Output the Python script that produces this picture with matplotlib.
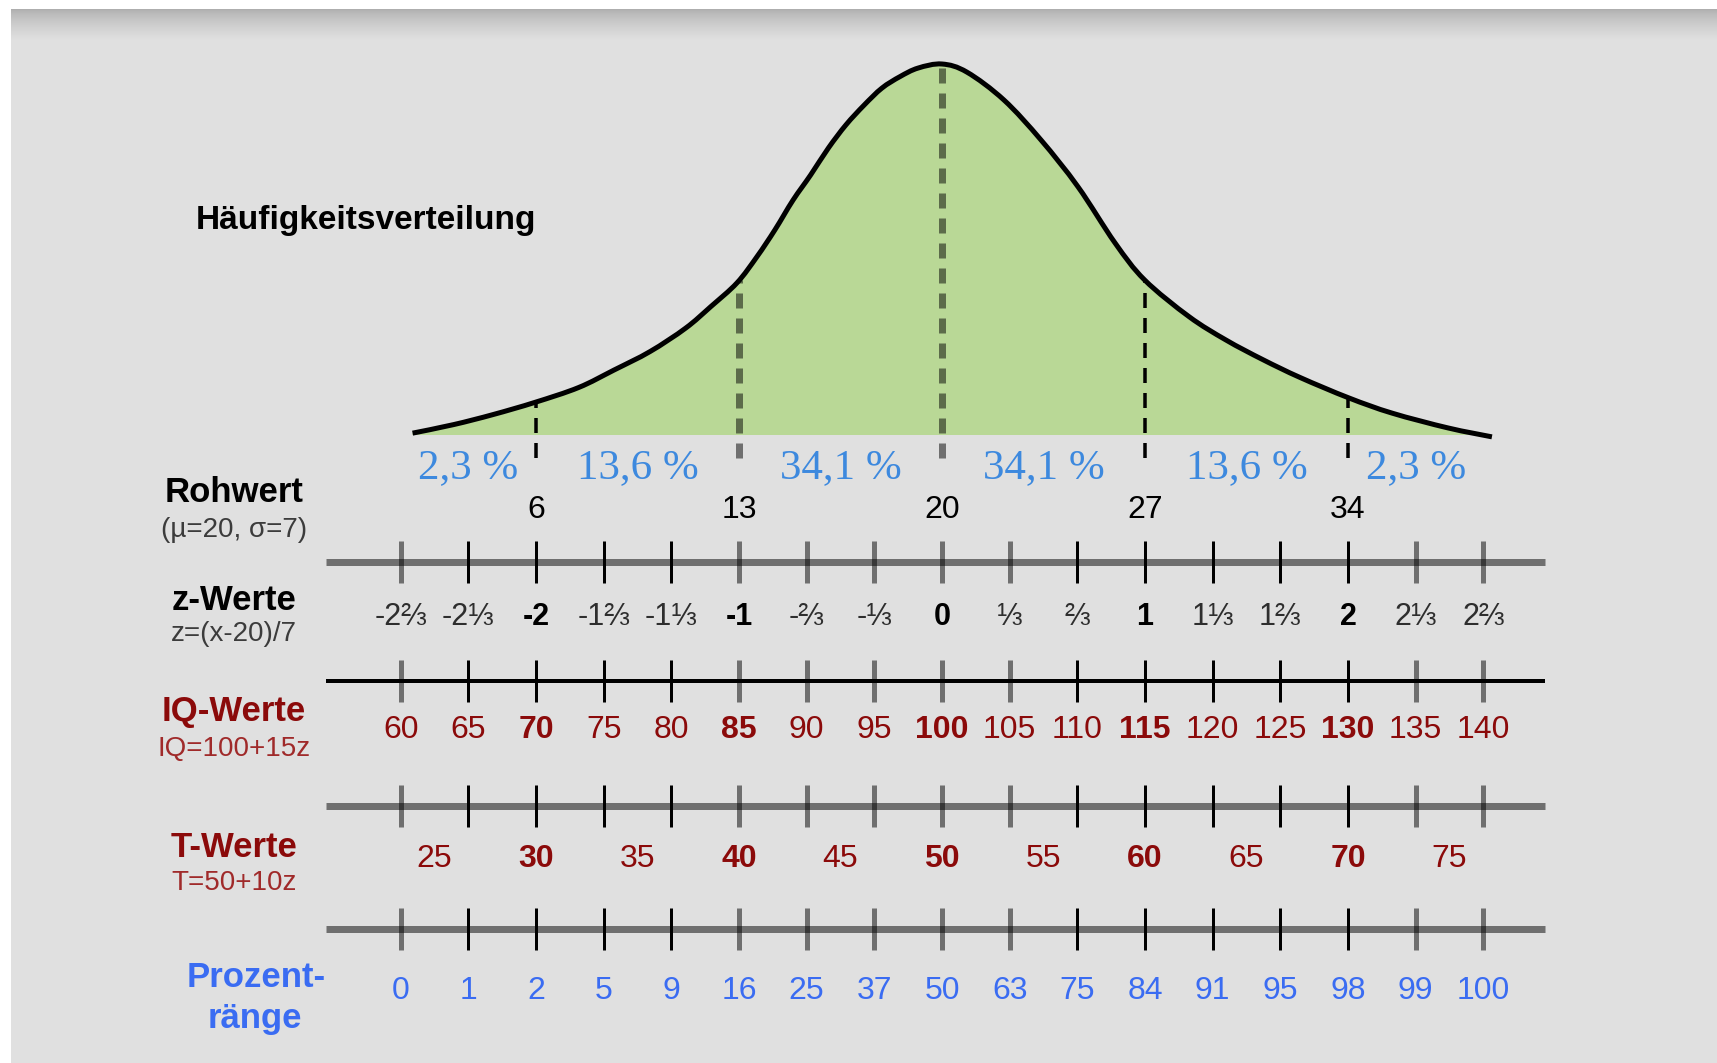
#!/usr/bin/env python3
"""
Normalverteilung mit Skalen (Rohwert, z, IQ, T, Prozentrang) nachgezeichnet.
"""

import numpy as np
import matplotlib.pyplot as plt
from matplotlib.patches import Rectangle, PathPatch
from matplotlib.path import Path

# --- data ------------------------------------------------------------------
# curve, x in z units, height relative to the peak
curve_z = [-2.608, -2.406, -2.212, -2.005, -1.790, -1.616, -1.438, -1.263,
           -1.139, -1.010, -0.911, -0.823, -0.734, -0.647, -0.559, -0.473,
           -0.384, -0.296, -0.207, -0.118, 0.0, 0.123, 0.305, 0.488, 0.670,
           0.852, 0.998, 1.217, 1.399, 1.581, 1.764, 2.004, 2.217, 2.493, 2.709]
curve_h = [0.005, 0.028, 0.055, 0.088, 0.128, 0.175, 0.225, 0.288,
           0.346, 0.410, 0.481, 0.553, 0.633, 0.701, 0.774, 0.836,
           0.889, 0.935, 0.966, 0.989, 1.0, 0.978, 0.903, 0.795, 0.669,
           0.518, 0.418, 0.319, 0.256, 0.203, 0.155, 0.100, 0.059, 0.019, -0.005]

sd_marks = [-2, -1, 0, 1, 2]
area_bounds = [-8/3, -2, -1, 0, 1, 2, 8/3]
area_labels = ['2,3 %', '13,6 %', '34,1 %', '34,1 %', '13,6 %', '2,3 %']

raw_mu, raw_sigma = 20, 7
raw_vals = [6, 13, 20, 27, 34]

z_vals = [-8/3, -7/3, -2, -5/3, -4/3, -1, -2/3, -1/3, 0,
          1/3, 2/3, 1, 4/3, 5/3, 2, 7/3, 8/3]
z_labels = ['-2⅔', '-2⅓', '-2', '-1⅔', '-1⅓', '-1', '-⅔', '-⅓', '0',
            '⅓', '⅔', '1', '1⅓', '1⅔', '2', '2⅓', '2⅔']

iq_vals = [60, 65, 70, 75, 80, 85, 90, 95, 100, 105, 110, 115, 120, 125, 130, 135, 140]
t_vals = [25, 30, 35, 40, 45, 50, 55, 60, 65, 70, 75]
pr_vals = [0, 1, 2, 5, 9, 16, 25, 37, 50, 63, 75, 84, 91, 95, 98, 99, 100]

# --- layout (pixels of the 1717x1063 picture) ------------------------------
W, H = 1717, 1063
Z0_PX, Z_UNIT_PX = 942, 203
BASE_PX, PEAK_PX = 435, 64
LINE_ROWS = [562, 681, 806, 929]
LINE_IS_BLACK = [False, True, False, False]
TICK_IS_BLACK = [False, True, True, True, True, False, False, False, False,
                 False, True, True, True, True, True, False, False]

GREEN = '#b9d896'
BG = '#e0e0e0'
DARKRED = '#8b0a0a'
PCT_BLUE = '#3d89de'
PR_BLUE = '#3a6cf2'
SANS = ['Liberation Sans', 'DejaVu Sans']
SERIF = ['Liberation Serif', 'DejaVu Serif']

plt.rcParams['lines.scale_dashes'] = False


def col(px):
    """pixel column -> z"""
    return (px - Z0_PX) / Z_UNIT_PX


def row(py):
    """pixel row -> curve height units"""
    return (BASE_PX - py) / (BASE_PX - PEAK_PX)


def pt(px):
    return px * 72 / 100


def smooth_path(xs, ys, close_to=None):
    """Bezier path through the given points (Catmull-Rom control points)."""
    p = np.column_stack([xs, ys])
    verts, codes = [p[0]], [Path.MOVETO]
    for i in range(len(p) - 1):
        p0 = p[i - 1] if i > 0 else p[i]
        p3 = p[i + 2] if i + 2 < len(p) else p[i + 1]
        verts += [p[i] + (p[i + 1] - p0) / 6, p[i + 1] - (p3 - p[i]) / 6, p[i + 1]]
        codes += [Path.CURVE4] * 3
    if close_to is not None:
        verts += [(xs[-1], close_to), (xs[0], close_to), p[0]]
        codes += [Path.LINETO, Path.LINETO, Path.CLOSEPOLY]
    return Path(verts, codes)


def draw_background(fig):
    bg = fig.add_axes([0, 0, 1, 1])
    bg.set_axis_off()
    bg.add_patch(Rectangle((11, 9), W - 11, H - 9, color=BG, lw=0, zorder=1))
    shade = np.linspace(0, 1, 32) ** 0.7
    grad = (0.68 + (0.878 - 0.68) * shade)[:, None]
    bg.imshow(grad, extent=(11, W, 40, 9), cmap='gray', vmin=0, vmax=1,
              aspect='auto', interpolation='bilinear', zorder=2)
    bg.set_xlim(0, W)
    bg.set_ylim(H, 0)


def draw_curve(ax):
    fill = PathPatch(smooth_path(curve_z, curve_h, close_to=0), facecolor=GREEN,
                     lw=0, zorder=2)
    ax.add_patch(fill)
    clip = Rectangle((col(0), 0), 20, 20, transform=ax.transData)
    fill.set_clip_path(clip)
    ax.add_patch(PathPatch(smooth_path(curve_z, curve_h), facecolor='none',
                           edgecolor='black', lw=pt(5), zorder=4))

    for z in sd_marks:
        top = np.interp(z, curve_z, curve_h)
        grey = z in (-1, 0)
        ax.plot([z, z], [row(458), top], color='black',
                alpha=0.5 if grey else 1.0, lw=pt(7 if grey else 3.5),
                dashes=(pt(15), pt(10)), solid_capstyle='butt', zorder=3)

    for i, lab in enumerate(area_labels):
        mid = (area_bounds[i] + area_bounds[i + 1]) / 2
        ax.text(mid, row(478), lab, ha='center', va='baseline', fontsize=31,
                color=PCT_BLUE, family=SERIF)

    ax.text(col(366), row(229), 'Häufigkeitsverteilung', ha='center',
            va='baseline', fontsize=24, fontweight='bold', family=SANS)


def draw_scales(ax):
    left, right = col(326), col(1545)
    for py, black in zip(LINE_ROWS, LINE_IS_BLACK):
        ax.plot([left, right], [row(py), row(py)], color='black',
                alpha=1.0 if black else 0.5, lw=pt(4 if black else 7),
                solid_capstyle='butt')
        for z, tb in zip(z_vals, TICK_IS_BLACK):
            ax.plot([z, z], [row(py - 21), row(py + 21)], color='black',
                    alpha=1.0 if tb else 0.5, lw=pt(3 if tb else 5),
                    solid_capstyle='butt')

    # Rohwert
    for v in raw_vals:
        z = (v - raw_mu) / raw_sigma
        ax.text(z, row(518), str(v), ha='center', va='baseline', fontsize=23,
                family=SANS)

    # z-Werte
    for z, lab in zip(z_vals, z_labels):
        whole = abs(z - round(z)) < 1e-9
        ax.text(z, row(625), lab, ha='center', va='baseline', fontsize=22,
                family=SANS, fontweight='bold' if whole else 'normal',
                color='black' if whole else '#2e2e2e')

    # IQ
    for v in iq_vals:
        z = (v - 100) / 15
        ax.text(z, row(738), str(v), ha='center', va='baseline', fontsize=23,
                family=SANS, color=DARKRED,
                fontweight='bold' if v % 15 == 10 else 'normal')

    # T
    for v in t_vals:
        z = (v - 50) / 10
        ax.text(z, row(867), str(v), ha='center', va='baseline', fontsize=23,
                family=SANS, color=DARKRED,
                fontweight='bold' if v % 10 == 0 else 'normal')

    # Prozentraenge
    for z, v in zip(z_vals, pr_vals):
        ax.text(z, row(999), str(v), ha='center', va='baseline', fontsize=23,
                family=SANS, color=PR_BLUE)


def draw_row_titles(ax):
    x = col(234)
    titles = [
        ('Rohwert', 502, 'black'), ('z-Werte', 610, 'black'),
        ('IQ-Werte', 721, DARKRED), ('T-Werte', 857, DARKRED),
    ]
    for txt, py, c in titles:
        ax.text(x, row(py), txt, ha='center', va='baseline', fontsize=25,
                fontweight='bold', color=c, family=SANS)

    subs = [
        ('(µ=20, σ=7)', 537, '#3c3c3c'), ('z=(x-20)/7', 641, '#3c3c3c'),
        ('IQ=100+15z', 756, '#a02a2a'), ('T=50+10z', 890, '#a02a2a'),
    ]
    for txt, py, c in subs:
        ax.text(x, row(py), txt, ha='center', va='baseline', fontsize=20,
                color=c, family=SANS)

    ax.text(col(256), row(987), 'Prozent-', ha='center', va='baseline',
            fontsize=25, fontweight='bold', color=PR_BLUE, family=SANS)
    ax.text(col(255), row(1028), 'ränge', ha='center', va='baseline',
            fontsize=25, fontweight='bold', color=PR_BLUE, family=SANS)


def main():
    fig = plt.figure(figsize=(W / 100, H / 100), dpi=100)
    fig.patch.set_facecolor('white')
    draw_background(fig)

    ax = fig.add_axes([0, 0, 1, 1])
    ax.patch.set_alpha(0)
    ax.set_axis_off()
    ax.set_xlim(col(0), col(W))
    ax.set_ylim(row(H), row(0))

    draw_curve(ax)
    draw_scales(ax)
    draw_row_titles(ax)

    fig.savefig('out.png', dpi=100)
    plt.close(fig)


if __name__ == '__main__':
    main()
